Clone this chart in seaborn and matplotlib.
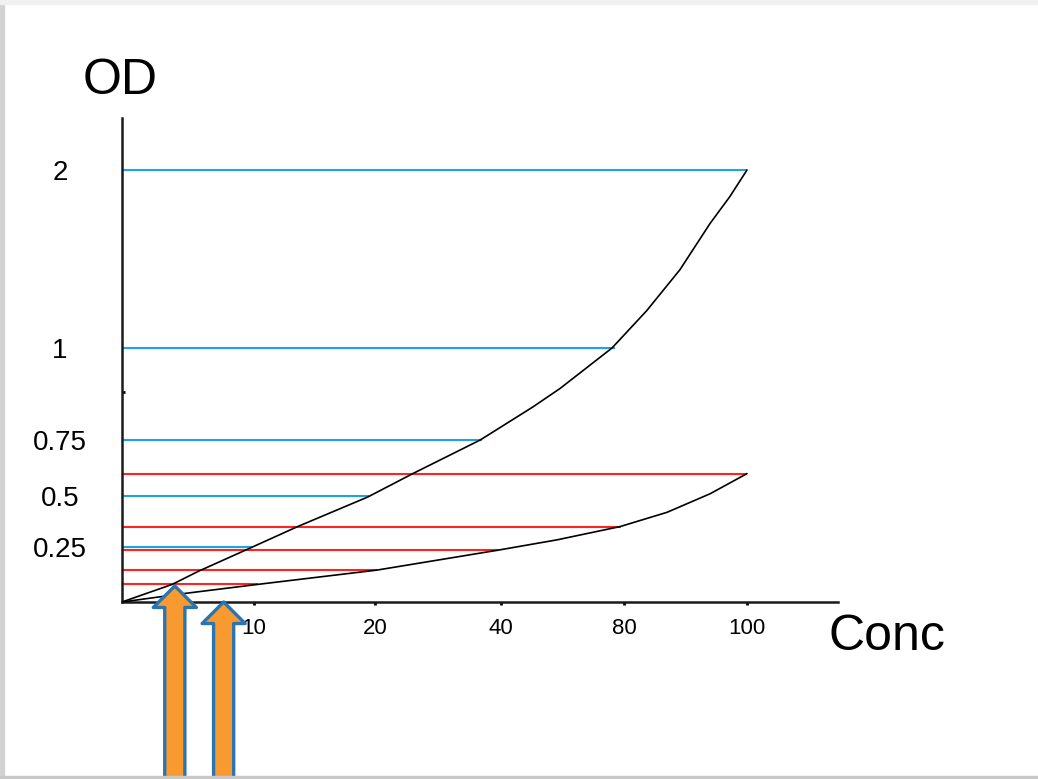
import numpy as np
import matplotlib
matplotlib.use('Agg')
import matplotlib.pyplot as plt
import seaborn as sns
from matplotlib.patches import Rectangle

# values (conc, OD)
x_ticks = [10, 20, 40, 80, 100]
x_labels = ['10', '20', '40', '80', '100']
y_ticks = [0.25, 0.5, 0.75, 1, 2]
y_labels = ['0.25', '0.5', '0.75', '1', '2']

upper_conc = [0, 3.8, 5.8, 9.7, 13.6, 19.4, 26, 36.7, 50.4, 59.2, 76.1, 83.7, 89.1, 94, 97.2, 100]
upper_od = [0, 0.08, 0.14, 0.245, 0.35, 0.495, 0.6, 0.75, 0.84, 0.89, 1.0, 1.21, 1.44, 1.70, 1.85, 2.0]

lower_conc = [0, 4.9, 10.3, 20.3, 39.4, 58.2, 78.7, 87, 94, 100]
lower_od = [0, 0.04, 0.08, 0.145, 0.235, 0.285, 0.35, 0.42, 0.51, 0.6]

blue_od = [2, 1, 0.75, 0.5, 0.25]
blue_end = [100, 77, 37, 19.5, 9.9]

red_od = [0.6, 0.35, 0.235, 0.145, 0.08]
red_end = [100, 79, 39.5, 20.3, 10.3]

arrow_conc = [4.0, 7.7]
arrow_od = [0.073, 0.0]

# the axes of the sketch are not linear: map tick values onto even-ish steps
conc_anchor = [0, 10, 20, 40, 80, 100, 120]
conc_step = [0, 132, 253, 379, 502, 625, 748]
od_anchor = [0, 0.25, 0.5, 0.75, 1, 2, 3]
od_step = [0, 55, 106, 162, 254, 432, 610]


def x_fwd(v):
    return np.interp(v, conc_anchor, conc_step)


def x_inv(p):
    return np.interp(p, conc_step, conc_anchor)


def y_fwd(v):
    return np.interp(v, od_anchor, od_step)


def y_inv(p):
    return np.interp(p, od_step, od_anchor)


sns.set_theme(style='white')
plt.rcParams['font.family'] = ['Liberation Sans', 'DejaVu Sans']
plt.rcParams['text.color'] = 'black'
plt.rcParams['xtick.color'] = 'black'
plt.rcParams['ytick.color'] = 'black'

W, H = 1038, 779
fig = plt.figure(figsize=(W / 100, H / 100), dpi=100)
ax = fig.add_axes([122 / W, (H - 602) / H, 716 / W, 484 / H])

ax.set_xscale('function', functions=(x_fwd, x_inv))
ax.set_yscale('function', functions=(y_fwd, y_inv))

blue = '#1ea4e4'
red = '#ff2424'
ax.hlines(blue_od, 0, blue_end, color=blue, lw=1.5, zorder=2)
ax.hlines(red_od, 0, red_end, color=red, lw=1.5, zorder=2)

sns.lineplot(x=upper_conc, y=upper_od, color='black', lw=1.2, sort=False,
             estimator=None, ax=ax, zorder=3)
sns.lineplot(x=lower_conc, y=lower_od, color='black', lw=1.2, sort=False,
             estimator=None, ax=ax, zorder=3)

ax.set_xlim(0, x_inv(716))
ax.set_ylim(0, y_inv(484))

ax.set_xticks(x_ticks)
ax.set_xticklabels(x_labels)
ax.set_yticks(y_ticks)
ax.set_yticklabels(y_labels)
ax.set_yticks([0.88], minor=True)
ax.tick_params(axis='x', direction='out', length=2.5, width=2,
               pad=9, labelsize=16, bottom=True, labelcolor='black')
ax.tick_params(axis='y', which='major', length=0, pad=44.6, labelsize=20,
               labelcolor='black')
ax.tick_params(axis='y', which='minor', direction='in', length=2.5, width=2,
               left=True)
for lbl in ax.get_yticklabels():
    lbl.set_ha('center')

sns.despine(ax=ax)
for side in ['left', 'bottom']:
    ax.spines[side].set_color('#1a1a1a')
    ax.spines[side].set_linewidth(1.8)
ax.set_xlabel('')
ax.set_ylabel('')

fig.text(120 / W, 1 - 81 / H, 'OD', ha='center', va='center', fontsize=36,
         color='black')
fig.text(887 / W, 1 - 637 / H, 'Conc', ha='center', va='center', fontsize=36,
         color='black')

for c, od in zip(arrow_conc, arrow_od):
    ax.annotate('', xy=(c, od), xycoords='data',
                xytext=(c, 0.0), textcoords=('data', 'figure fraction'),
                arrowprops=dict(arrowstyle='simple,head_length=1.55,head_width=3.1,tail_width=1.45',
                                mutation_scale=10, fc='#f89a30', ec='#2a74b0',
                                lw=2.4, shrinkA=0, shrinkB=0),
                annotation_clip=False, zorder=5)

# slide border
fig.add_artist(Rectangle((0, 0), 4 / W, 1, transform=fig.transFigure,
                         color='#d2d2d2', zorder=10))
fig.add_artist(Rectangle((0, 0), 1, 3 / H, transform=fig.transFigure,
                         color='#c8c8c8', zorder=10))
fig.add_artist(Rectangle((0, 1 - 4 / H), 1, 4 / H, transform=fig.transFigure,
                         color='#f1f1f1', zorder=10))

fig.savefig('out.png', dpi=100)
